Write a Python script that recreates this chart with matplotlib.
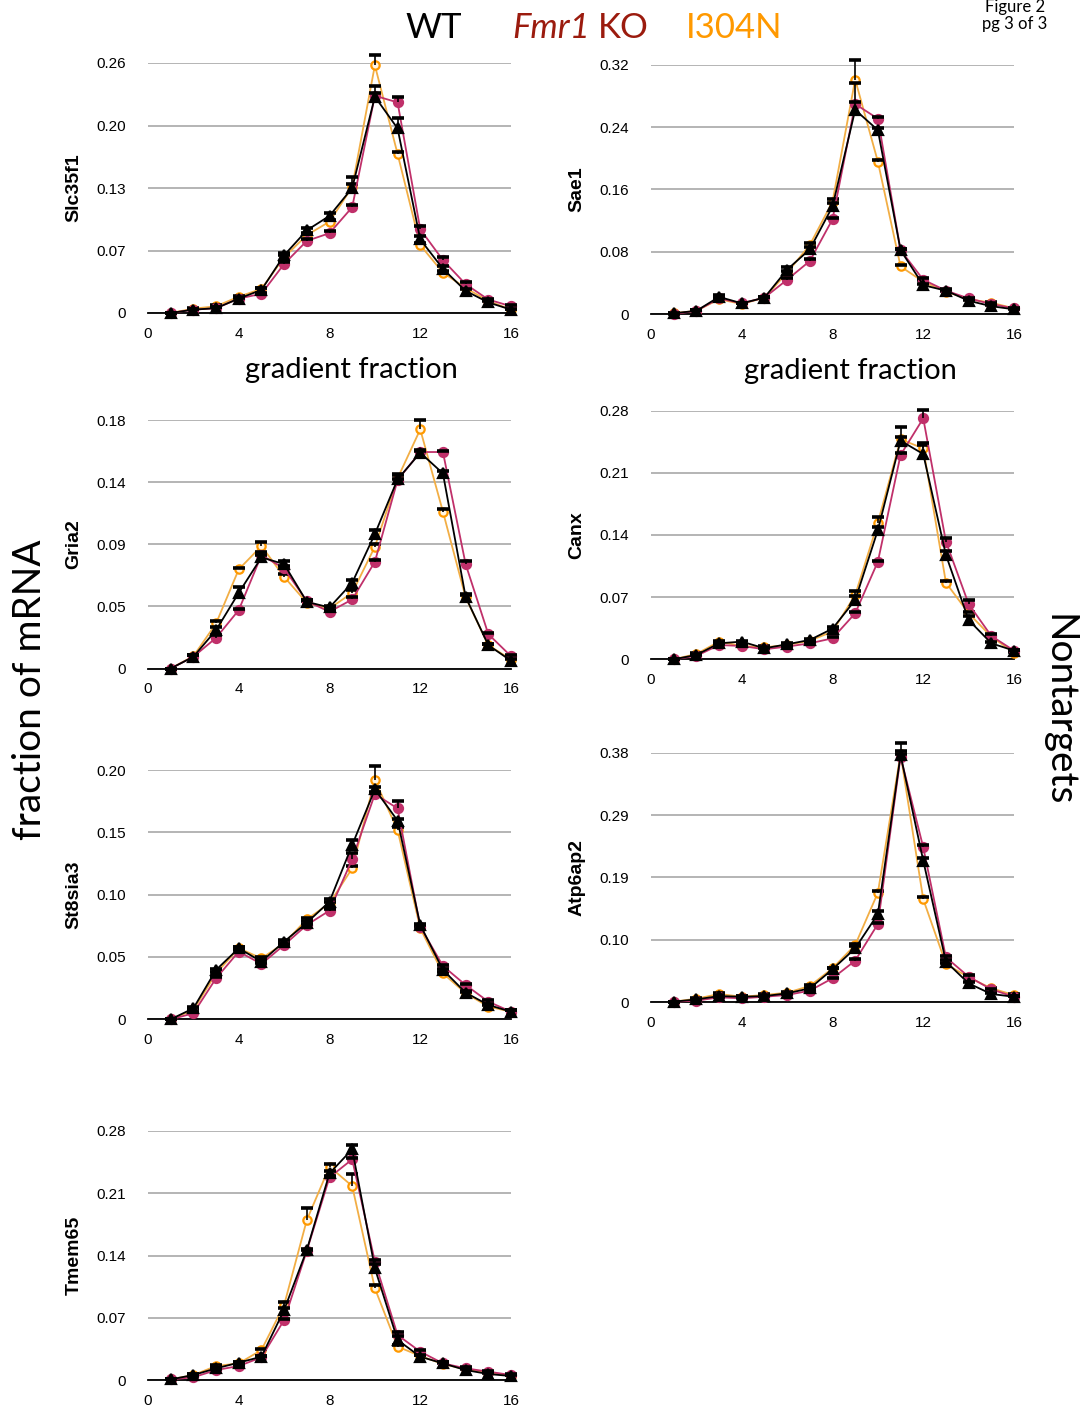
import numpy as np
import matplotlib.pyplot as plt

fraction = np.arange(1, 17)

# Slc35f1
slc_wt = [0, 0.0035, 0.005, 0.015, 0.024, 0.060, 0.086, 0.101, 0.130, 0.225, 0.192, 0.0765, 0.046, 0.023, 0.011, 0.0035]
slc_ko = [0, 0.0035, 0.005, 0.015, 0.020, 0.051, 0.075, 0.083, 0.110, 0.226, 0.219, 0.087, 0.055, 0.030, 0.014, 0.007]
slc_mut = [0, 0.0045, 0.007, 0.017, 0.025, 0.058, 0.081, 0.095, 0.131, 0.2576, 0.1655, 0.0706, 0.042, 0.026, 0.0125, 0.0035]
slc_wt_err = [0, 0.001, 0.001, 0.002, 0.002, 0.002, 0.002, 0.003, 0.011, 0.011, 0.011, 0.004, 0.003, 0.002, 0.002, 0.001]
slc_ko_err = [0, 0.001, 0.001, 0.001, 0.001, 0.002, 0.002, 0.002, 0.002, 0.003, 0.006, 0.003, 0.003, 0.002, 0.001, 0.001]
slc_mut_err = [0, 0.001, 0.001, 0.001, 0.001, 0.002, 0.002, 0.002, 0.003, 0.011, 0.002, 0.002, 0.002, 0.001, 0.001, 0.001]

# Sae1
sae_wt = [0.001, 0.004, 0.022, 0.0137, 0.021, 0.057, 0.083, 0.138, 0.262, 0.236, 0.082, 0.037, 0.030, 0.017, 0.010, 0.006]
sae_ko = [0, 0.004, 0.020, 0.0137, 0.021, 0.044, 0.068, 0.1215, 0.2695, 0.2507, 0.082, 0.044, 0.030, 0.020, 0.0128, 0.0073]
sae_mut = [0.001, 0.004, 0.019, 0.0128, 0.021, 0.053, 0.0886, 0.144, 0.301, 0.1955, 0.061, 0.0415, 0.0287, 0.019, 0.0145, 0.0073]
sae_wt_err = [0, 0.001, 0.002, 0.001, 0.001, 0.003, 0.003, 0.004, 0.035, 0.003, 0.002, 0.002, 0.002, 0.001, 0.001, 0.001]
sae_ko_err = [0, 0.001, 0.001, 0.001, 0.001, 0.002, 0.002, 0.002, 0.002, 0.002, 0.002, 0.002, 0.001, 0.001, 0.001, 0.001]
sae_mut_err = [0, 0.001, 0.001, 0.001, 0.001, 0.002, 0.003, 0.004, 0.025, 0.002, 0.002, 0.002, 0.001, 0.001, 0.001, 0.001]

# Gria2
gria_wt = [0, 0.0085, 0.0278, 0.0548, 0.0805, 0.0756, 0.0483, 0.0442, 0.0621, 0.0974, 0.137, 0.1563, 0.1413, 0.0519, 0.0169, 0.0056]
gria_ko = [0, 0.0085, 0.0222, 0.0423, 0.0821, 0.0725, 0.0488, 0.0411, 0.050, 0.0773, 0.1365, 0.1568, 0.1568, 0.0756, 0.0249, 0.0089]
gria_mut = [0, 0.0089, 0.0326, 0.0718, 0.0887, 0.0664, 0.0476, 0.0435, 0.0548, 0.0882, 0.1377, 0.1732, 0.1136, 0.0515, 0.0169, 0.0065]
gria_wt_err = [0, 0.001, 0.002, 0.004, 0.002, 0.002, 0.001, 0.001, 0.002, 0.003, 0.003, 0.002, 0.002, 0.002, 0.001, 0.001]
gria_ko_err = [0, 0.001, 0.002, 0.001, 0.002, 0.002, 0.001, 0.001, 0.002, 0.001, 0.001, 0.001, 0.001, 0.002, 0.001, 0.001]
gria_mut_err = [0, 0.001, 0.002, 0.001, 0.003, 0.002, 0.001, 0.001, 0.002, 0.002, 0.003, 0.007, 0.002, 0.002, 0.001, 0.001]

# Canx
canx_wt = [0, 0.0049, 0.018, 0.0199, 0.0124, 0.0169, 0.0218, 0.0345, 0.0668, 0.1456, 0.2462, 0.2312, 0.1175, 0.0443, 0.018, 0.0098]
canx_ko = [0, 0.0038, 0.0161, 0.015, 0.0113, 0.0143, 0.018, 0.0236, 0.0518, 0.110, 0.2301, 0.2714, 0.1325, 0.0623, 0.0263, 0.0098]
canx_mut = [0, 0.006, 0.0199, 0.015, 0.0135, 0.0161, 0.021, 0.0312, 0.0724, 0.1539, 0.2477, 0.2376, 0.0863, 0.0518, 0.0255, 0.0075]
canx_wt_err = [0, 0.001, 0.001, 0.001, 0.001, 0.001, 0.001, 0.002, 0.004, 0.003, 0.016, 0.012, 0.005, 0.004, 0.002, 0.001]
canx_ko_err = [0, 0.001, 0.001, 0.001, 0.001, 0.001, 0.001, 0.001, 0.002, 0.001, 0.002, 0.009, 0.004, 0.004, 0.002, 0.001]
canx_mut_err = [0, 0.001, 0.001, 0.001, 0.001, 0.001, 0.001, 0.002, 0.004, 0.006, 0.003, 0.004, 0.002, 0.002, 0.001, 0.001]

# St8sia3
st8_wt = [0, 0.0088, 0.0396, 0.057, 0.0463, 0.0623, 0.0775, 0.0944, 0.1398, 0.1845, 0.1594, 0.0757, 0.0396, 0.0214, 0.0115, 0.0061]
st8_ko = [0, 0.0048, 0.0329, 0.0543, 0.0444, 0.0596, 0.0757, 0.0872, 0.1283, 0.1807, 0.1692, 0.0743, 0.0428, 0.0275, 0.0142, 0.0061]
st8_mut = [0, 0.0075, 0.0369, 0.057, 0.0489, 0.061, 0.0802, 0.093, 0.1211, 0.192, 0.1519, 0.073, 0.0369, 0.0209, 0.0102, 0.0061]
st8_wt_err = [0, 0.001, 0.001, 0.001, 0.001, 0.001, 0.001, 0.002, 0.004, 0.002, 0.001, 0.001, 0.001, 0.001, 0.001, 0.001]
st8_ko_err = [0, 0.001, 0.001, 0.001, 0.001, 0.001, 0.001, 0.001, 0.005, 0.002, 0.006, 0.001, 0.001, 0.001, 0.001, 0.001]
st8_mut_err = [0, 0.001, 0.001, 0.001, 0.001, 0.001, 0.001, 0.001, 0.002, 0.011, 0.002, 0.001, 0.001, 0.001, 0.001, 0.001]

# Atp6ap2
atp_wt = [0.0005, 0.004, 0.009, 0.008, 0.009, 0.0132, 0.0208, 0.0498, 0.0818, 0.1341, 0.3764, 0.2154, 0.0615, 0.0284, 0.0122, 0.008]
atp_ko = [0.0005, 0.002, 0.0071, 0.0056, 0.008, 0.0107, 0.0173, 0.0361, 0.063, 0.1189, 0.3739, 0.2357, 0.0681, 0.0386, 0.0193, 0.008]
atp_mut = [0.0005, 0.005, 0.0122, 0.008, 0.0107, 0.0142, 0.0244, 0.0513, 0.0869, 0.1666, 0.378, 0.1565, 0.0579, 0.0376, 0.0208, 0.0107]
atp_wt_err = [0, 0.001, 0.001, 0.001, 0.001, 0.001, 0.001, 0.002, 0.003, 0.004, 0.018, 0.004, 0.003, 0.002, 0.001, 0.001]
atp_ko_err = [0, 0.001, 0.001, 0.001, 0.001, 0.001, 0.001, 0.001, 0.002, 0.002, 0.004, 0.003, 0.002, 0.002, 0.001, 0.001]
atp_mut_err = [0, 0.001, 0.001, 0.001, 0.001, 0.001, 0.001, 0.001, 0.002, 0.003, 0.004, 0.004, 0.002, 0.001, 0.001, 0.001]

# Tmem65
tmem_wt = [0.0007, 0.0056, 0.0131, 0.0195, 0.0262, 0.0787, 0.1462, 0.2324, 0.2594, 0.1256, 0.045, 0.0262, 0.0187, 0.0112, 0.0067, 0.0045]
tmem_ko = [0.0007, 0.003, 0.0112, 0.0157, 0.0255, 0.0675, 0.1454, 0.2279, 0.2481, 0.1331, 0.0506, 0.0319, 0.0187, 0.0131, 0.0094, 0.0056]
tmem_mut = [0.0007, 0.0056, 0.0157, 0.0187, 0.0337, 0.0843, 0.1799, 0.2399, 0.2181, 0.1031, 0.0375, 0.027, 0.018, 0.012, 0.0082, 0.0045]
tmem_wt_err = [0, 0.001, 0.001, 0.001, 0.001, 0.002, 0.001, 0.003, 0.005, 0.005, 0.004, 0.002, 0.001, 0.001, 0.001, 0.001]
tmem_ko_err = [0, 0.001, 0.001, 0.001, 0.001, 0.001, 0.001, 0.002, 0.002, 0.002, 0.003, 0.002, 0.001, 0.001, 0.001, 0.001]
tmem_mut_err = [0, 0.001, 0.001, 0.001, 0.001, 0.003, 0.013, 0.003, 0.014, 0.004, 0.002, 0.001, 0.001, 0.001, 0.001, 0.001]

genes = ['Slc35f1', 'Sae1', 'Gria2', 'Canx', 'St8sia3', 'Atp6ap2', 'Tmem65']
ymax = [0.26, 0.32, 0.18, 0.28, 0.20, 0.38, 0.28]
ytick_labels = [
    ['0', '0.07', '0.13', '0.20', '0.26'],
    ['0', '0.08', '0.16', '0.24', '0.32'],
    ['0', '0.05', '0.09', '0.14', '0.18'],
    ['0', '0.07', '0.14', '0.21', '0.28'],
    ['0', '0.05', '0.10', '0.15', '0.20'],
    ['0', '0.10', '0.19', '0.29', '0.38'],
    ['0', '0.07', '0.14', '0.21', '0.28'],
]
series = [
    (slc_wt, slc_wt_err, slc_ko, slc_ko_err, slc_mut, slc_mut_err),
    (sae_wt, sae_wt_err, sae_ko, sae_ko_err, sae_mut, sae_mut_err),
    (gria_wt, gria_wt_err, gria_ko, gria_ko_err, gria_mut, gria_mut_err),
    (canx_wt, canx_wt_err, canx_ko, canx_ko_err, canx_mut, canx_mut_err),
    (st8_wt, st8_wt_err, st8_ko, st8_ko_err, st8_mut, st8_mut_err),
    (atp_wt, atp_wt_err, atp_ko, atp_ko_err, atp_mut, atp_mut_err),
    (tmem_wt, tmem_wt_err, tmem_ko, tmem_ko_err, tmem_mut, tmem_mut_err),
]

# panel boxes in pixels: (left, top, bottom)
W, H = 1086, 1408
boxes = [(148, 63, 313), (651, 64.7, 314), (148, 420, 668.5), (651, 410.7, 659.3),
         (148, 770, 1019.3), (651, 752.7, 1002), (148, 1131, 1380)]
axw = 363

c_wt = 'black'
c_ko = '#C0306A'
c_mut_line = '#F2AE45'
c_mut = '#FF9900'

fig = plt.figure(figsize=(W / 100, H / 100), dpi=100)
tick_font = 'Liberation Sans'
title_font = 'Lato'

for i, gene in enumerate(genes):
    left, top, bottom = boxes[i]
    ax = fig.add_axes([left / W, 1 - bottom / H, axw / W, (bottom - top) / H])
    wt, wte, ko, koe, mut, mute = series[i]

    def draw(vals, err, color, lc, marker, mfc, ms, z):
        vals = np.array(vals)
        upper = vals + np.array(err)
        ax.plot(fraction, vals, color=lc, lw=1.3, zorder=z, clip_on=False)
        ax.plot(fraction, vals, ls='none', marker=marker, ms=ms, mfc=mfc,
                mec=color, mew=1.6, zorder=z + 0.2, clip_on=False)
        # upper error bars only
        ax.vlines(fraction, vals, upper, color='black', lw=1.2, zorder=z + 0.5, clip_on=False)
        ax.plot(fraction, upper, ls='none', marker='_', ms=8, mew=2.6, color='black',
                zorder=z + 0.5, clip_on=False)

    draw(mut, mute, c_mut, c_mut_line, 'o', '#FFF6E6', 6, 3)
    draw(ko, koe, c_ko, c_ko, 'o', c_ko, 6.5, 4)
    draw(wt, wte, c_wt, c_wt, '^', c_wt, 6.5, 5)

    ax.set_xlim(0, 16)
    ax.set_ylim(0, ymax[i])
    ax.set_xticks([0, 4, 8, 12, 16])
    ax.set_yticks(np.linspace(0, ymax[i], 5))
    ax.set_yticklabels(ytick_labels[i])
    ax.tick_params(length=0, labelsize=11, pad=16)
    ax.tick_params(axis='x', pad=10)
    for lab in ax.get_xticklabels() + ax.get_yticklabels():
        lab.set_fontfamily(tick_font)
    ax.grid(axis='y', color='#B4B4B4', lw=1.4)
    ax.set_axisbelow(True)
    for s in ['top', 'right', 'left']:
        ax.spines[s].set_visible(False)
    ax.spines['bottom'].set_linewidth(1.3)
    ax.set_ylabel(gene, fontsize=14, fontweight='bold', family=tick_font, labelpad=10)

fig.text(351 / W, 1 - 370 / H, 'gradient fraction', fontsize=21, family=title_font,
         ha='center', va='center')
fig.text(850 / W, 1 - 371 / H, 'gradient fraction', fontsize=21, family=title_font,
         ha='center', va='center')
fig.text(30 / W, 1 - 690 / H, 'fraction of mRNA', rotation=90, fontsize=28,
         family=title_font, ha='center', va='center')
fig.text(1058 / W, 1 - 710 / H, 'Nontargets', rotation=-90, fontsize=28,
         family=title_font, ha='center', va='center')

hy = 1 - 28 / H
fig.text(405 / W, hy, 'WT', fontsize=25, family=title_font, ha='left', va='center')
fig.text(512 / W, hy, 'Fmr1', fontsize=25, family=title_font, style='italic',
         color='#9B1B0E', ha='left', va='center')
fig.text(598 / W, hy, 'KO', fontsize=25, family=title_font, color='#9B1B0E',
         ha='left', va='center')
fig.text(686 / W, hy, 'I304N', fontsize=25, family=title_font, color='#FF9900',
         ha='left', va='center')
fig.text(1015 / W, 1 - 7 / H, 'Figure 2', fontsize=12, family=title_font,
         ha='center', va='center')
fig.text(1015 / W, 1 - 24 / H, 'pg 3 of 3', fontsize=12, family=title_font,
         ha='center', va='center')

fig.savefig('out.png', dpi=100)
